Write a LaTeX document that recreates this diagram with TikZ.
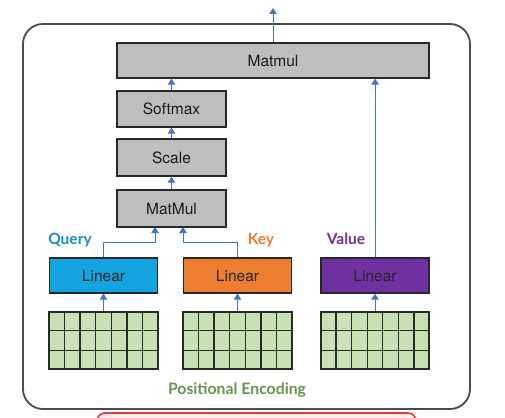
\documentclass[tikz,border=0pt]{standalone}
\usepackage{fontspec}
\setmainfont{TeX Gyre Heros}
\newfontfamily\labelfont{Lato}
\usetikzlibrary{arrows.meta,calc}
\definecolor{arrowblue}{RGB}{68,114,196}
\definecolor{boxgray}{RGB}{190,190,190}
\definecolor{boxline}{RGB}{40,40,40}
\definecolor{qblue}{RGB}{20,165,225}
\definecolor{korange}{RGB}{237,125,49}
\definecolor{vpurple}{RGB}{112,48,160}
\definecolor{qtext}{RGB}{30,140,200}
\definecolor{gridgreen}{RGB}{200,225,180}
\definecolor{gridline}{RGB}{35,45,35}
\definecolor{pegreen}{RGB}{100,150,70}
\definecolor{framegray}{RGB}{75,75,75}
\definecolor{redline}{RGB}{220,60,60}
\begin{document}
\begin{tikzpicture}[x=1pt,y=-1pt,
  opbox/.style={draw=boxline,line width=1.3pt,fill=boxgray,inner sep=0pt,
    font=\fontsize{15.5}{17}\selectfont,text=black!90},
  linbox/.style={draw=boxline,line width=1.3pt,inner sep=0pt,minimum width=108pt,minimum height=35pt,
    font=\fontsize{15.5}{17}\selectfont,text=black!85},
  gridbox/.style={draw=gridline,line width=1.3pt,fill=gridgreen,inner sep=0pt,minimum width=108pt,minimum height=57pt},
  gline/.style={draw=gridline,line width=1.3pt},
  arr/.style={draw=arrowblue,line width=0.9pt,-{Triangle[width=7.5pt,length=6pt]}},
  lab/.style={font=\labelfont\bfseries\fontsize{15.5}{17}\selectfont}
]
\useasboundingbox (0,0) rectangle (505,417);
% red box partially visible
\draw[redline,line width=1.6pt,fill=red!8,rounded corners=8pt] (97,413) rectangle (416,440);
% outer frame
\draw[framegray,line width=1.8pt,rounded corners=20pt] (23,24) rectangle (470,409);

% operation boxes
\node[opbox,minimum width=312pt,minimum height=35pt] (mm2) at (273,60.5) {Matmul};
\node[opbox,minimum width=109pt,minimum height=36pt] (sm) at (171.5,109) {Softmax};
\node[opbox,minimum width=109pt,minimum height=37pt] (sc) at (171.5,157.5) {Scale};
\node[opbox,minimum width=109pt,minimum height=37pt] (mm1) at (171.5,208.5) {MatMul};

% linear boxes
\node[linbox,fill=qblue] (lq) at (103.5,275.5) {Linear};
\node[linbox,fill=korange] (lk) at (237.5,275.5) {Linear};
\node[linbox,fill=vpurple] (lv) at (375,275.5) {Linear};

% labels
\node[lab,text=qtext] (tq) at (70,240) {Query};
\node[lab,text=korange] (tk) at (261,240) {Key};
\node[lab,text=vpurple] (tv) at (346,239) {Value};

% grids
\foreach \g/\x in {gq/103.5,gk/237.5,gv/375}{
  \node[gridbox] (\g) at (\x,340.5) {};
  \foreach \i in {1,...,6}{
    \draw[gline] ($(\g.north west)!\i/7!(\g.north east)$) -- ($(\g.south west)!\i/7!(\g.south east)$);
  }
  \foreach \j in {1,2}{
    \draw[gline] ($(\g.north west)!\j/3!(\g.south west)$) -- ($(\g.north east)!\j/3!(\g.south east)$);
  }
  \draw[gridline,line width=1.3pt] (\g.north west) rectangle (\g.south east);
}

\node[font=\labelfont\bfseries\fontsize{15.8}{17}\selectfont,text=pegreen] (pe) at (237,390) {Positional Encoding};

% arrows
\coordinate (out) at (273,8);
\draw[arr] (mm2.north) -- (out);
\draw[arr] (sm.north) -- (sm.north |- mm2.south);
\draw[arr] (sc.north) -- (sc.north |- sm.south);
\draw[arr] (mm1.north) -- (mm1.north |- sc.south);
\draw[arr] (lv.north) -- (lv.north |- mm2.south);
\draw[arr] (lq.north) -- (103.5,242) -- (155,242) -- (155,227);
\draw[arr] (lk.north) -- (237.5,242) -- (183,242) -- (183,227);
\draw[arr] (gq.north) -- (lq.south);
\draw[arr] (gk.north) -- (lk.south);
\draw[arr] (gv.north) -- (lv.south);
\end{tikzpicture}
\end{document}
